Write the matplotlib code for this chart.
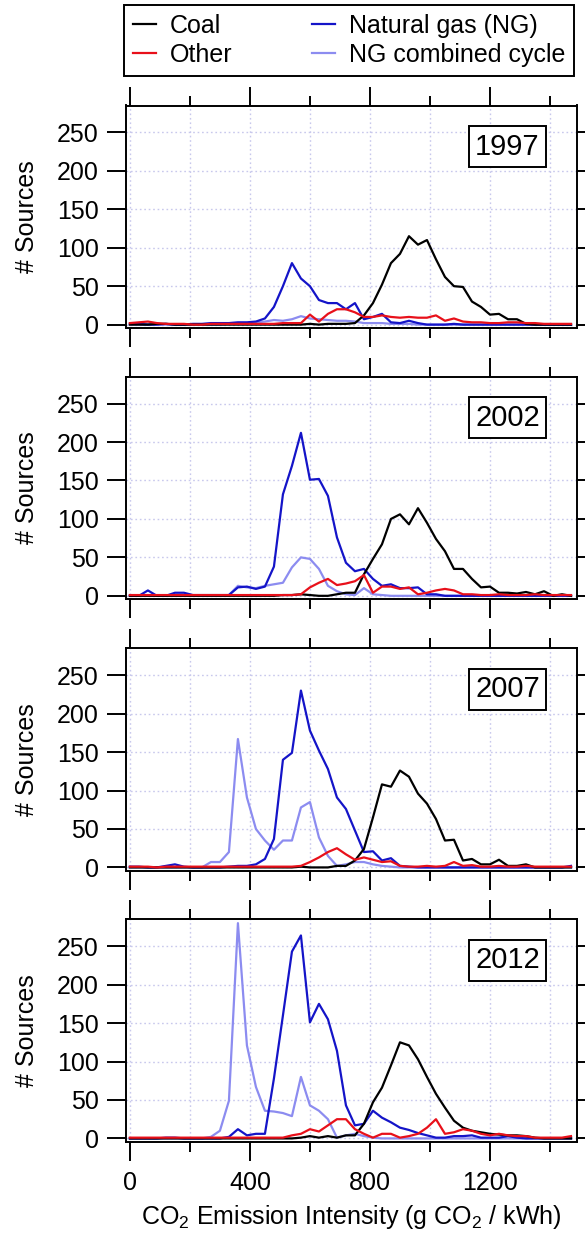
import matplotlib
matplotlib.use("Agg")
import matplotlib.pyplot as plt
from matplotlib.ticker import FixedLocator

plt.rcParams['font.family'] = ['Liberation Sans', 'DejaVu Sans']
plt.rcParams['mathtext.default'] = 'regular'

# bin centres of CO2 emission intensity (g CO2 / kWh)
bins = list(range(0, 1500, 30))

years = ['1997', '2002', '2007', '2012']

coal_1997 = [0,0,0,1,1,0,0,0,0,0, 0,0,0,0,0,0,0,0,0,0, 1,0,1,1,1,
             2,12,28,52,80, 92,115,104,110,85, 62,50,49,30,23, 13,14,7,7,1, 0,0,0,0,0]
ng_1997 = [1,1,0,0,1,0,0,1,1,2, 2,2,3,3,4,8,23,50,80,60, 50,32,28,28,20,
           28,7,10,14,3, 2,5,2,0,0, 0,1,0,0,0, 0,0,0,0,0, 0,0,0,0,0]
other_1997 = [2,3,4,2,1,1,1,0,0,1, 1,1,1,1,1,1,1,2,2,2, 13,4,14,20,20,
              16,10,10,12,10, 9,10,9,9,12, 5,8,4,3,3, 2,2,3,3,2, 2,1,1,1,1]
ngcc_1997 = [0,0,0,0,0,0,0,0,0,0, 0,1,1,2,3,4,6,5,7,11, 8,7,6,5,5,
             4,2,2,2,1, 1,1,0,0,0, 0,0,0,0,0, 0,0,0,0,0, 0,0,0,0,0]

coal_2002 = [0,0,0,0,0,0,0,0,0,0, 0,0,0,0,0,0,0,1,1,2, 1,0,0,2,4,
             4,28,48,67,100, 106,93,114,95,74, 58,35,35,22,11, 12,4,4,3,5, 2,6,0,2,0]
ng_2002 = [0,0,7,0,0,4,4,1,1,1, 1,1,11,12,9,12,38,132,169,212, 151,152,130,76,43,
           32,35,22,13,15, 10,10,11,2,2, 0,0,0,0,0, 0,0,0,0,0, 0,0,0,0,0]
other_2002 = [1,1,1,1,1,1,1,1,1,1, 1,1,1,1,1,1,1,1,1,2, 11,17,22,14,16,
              19,27,4,12,12, 9,11,2,4,7, 9,7,2,2,1, 1,2,1,1,1, 2,1,1,1,1]
ngcc_2002 = [0,0,0,0,0,0,0,0,0,0, 0,1,13,11,10,13,15,17,37,50, 48,35,13,6,2,
             1,10,2,1,0, 0,0,0,0,0, 0,0,0,0,0, 0,0,0,0,0, 0,0,0,0,0]

coal_2007 = [0,0,0,0,0,0,0,0,0,0, 0,0,0,0,0,0,0,0,0,1, 0,0,0,2,2,
             9,24,65,108,105, 126,118,96,83,63, 35,36,9,11,4, 4,10,2,2,4, 0,0,0,0,0]
ng_2007 = [1,1,0,0,2,4,1,0,0,0, 0,1,2,2,4,11,37,140,149,230, 178,152,128,91,76,
           48,20,21,9,12, 2,1,0,0,0, 0,0,0,0,0, 0,0,0,0,0, 0,0,0,0,2]
other_2007 = [1,1,1,0,1,1,1,1,1,1, 1,1,1,1,1,1,1,1,1,2, 7,13,20,25,17,
              10,13,10,7,8, 2,1,1,2,1, 2,7,2,3,1, 1,2,1,1,2, 1,1,1,1,1]
ngcc_2007 = [0,0,0,0,0,0,0,0,0,7, 7,20,167,91,50,35,23,35,35,78, 85,39,15,2,4,
             7,7,4,2,1, 0,0,0,0,0, 0,0,0,0,0, 0,0,0,0,0, 0,0,0,0,0]

coal_2012 = [0,0,0,0,0,0,0,0,0,0, 0,0,0,0,0,0,0,0,0,1, 3,1,3,1,4,
             4,19,47,66,95, 125,121,103,80,58, 40,23,14,10,8, 6,5,4,4,3, 1,0,0,0,0]
ng_2012 = [0,0,0,0,1,1,0,0,0,0, 0,2,12,4,6,6,78,160,243,264, 151,175,155,114,43,
           17,19,36,27,21, 14,11,7,4,1, 1,3,3,4,1, 1,1,3,1,0, 0,0,0,0,0]
other_2012 = [1,1,1,1,1,1,1,1,1,1, 1,1,1,1,1,1,1,1,4,6, 12,9,17,25,25,
              12,6,1,6,6, 1,3,6,14,25, 6,8,12,10,6, 4,6,4,3,3, 1,1,1,1,3]
ngcc_2012 = [0,0,0,0,0,0,0,0,0,2, 10,49,280,121,67,36,35,33,29,80, 43,36,25,1,4,
             6,3,1,0,0, 0,0,0,0,0, 0,0,0,0,0, 0,0,0,0,0, 0,0,0,0,0]

coal = [coal_1997, coal_2002, coal_2007, coal_2012]
ng = [ng_1997, ng_2002, ng_2007, ng_2012]
other = [other_1997, other_2002, other_2007, other_2012]
ngcc = [ngcc_1997, ngcc_2002, ngcc_2007, ngcc_2012]

labels = ['Coal', 'Other', 'Natural gas (NG)', 'NG combined cycle']
colors = {'coal': '#000000', 'other': '#e8101a', 'ng': '#1414c8', 'ngcc': '#8c8cf0'}

W, H = 585, 1238
fig = plt.figure(figsize=(W / 100, H / 100), dpi=100)

left_px, right_px = 126, 577
tops = [105.5, 376.7, 648.3, 919.3]
height_px = 222.2

axes = []
for k, yr in enumerate(years):
    top = tops[k]
    ax = fig.add_axes([left_px / W, 1 - (top + height_px) / H,
                       (right_px - left_px) / W, height_px / H])
    axes.append(ax)
    ax.set_axisbelow(True)
    l_ngcc, = ax.plot(bins, ngcc[k], color=colors['ngcc'], lw=1.6, label=labels[3])
    l_ng, = ax.plot(bins, ng[k], color=colors['ng'], lw=1.6, label=labels[2])
    l_coal, = ax.plot(bins, coal[k], color=colors['coal'], lw=1.6, label=labels[0])
    l_oth, = ax.plot(bins, other[k], color=colors['other'], lw=1.6, label=labels[1])
    if k == 0:
        handles = [l_coal, l_oth, l_ng, l_ngcc]
    ax.set_xlim(-13, 1490)
    ax.set_ylim(-4, 285)
    ax.xaxis.set_major_locator(FixedLocator([0, 400, 800, 1200]))
    ax.xaxis.set_minor_locator(FixedLocator([200, 600, 1000, 1400]))
    ax.yaxis.set_major_locator(FixedLocator([0, 50, 100, 150, 200, 250]))
    ax.grid(which='both', axis='x', color='#c8c8ec', ls=(0, (1.2, 2.0)), lw=1.0)
    ax.grid(which='major', axis='y', color='#c8c8ec', ls=(0, (1.2, 2.0)), lw=1.0)
    for s in ax.spines.values():
        s.set_linewidth(1.4)
    ax.tick_params(which='major', direction='out', length=13.5, width=1.4,
                   top=True, right=True, bottom=True, left=True,
                   labelsize=18, labeltop=False, labelright=False)
    ax.tick_params(which='minor', direction='out', length=7, width=1.4,
                   top=True, bottom=True)
    ax.tick_params(axis='y', which='major', pad=6)
    ax.tick_params(axis='x', which='major', pad=8)
    if k < 3:
        ax.tick_params(labelbottom=False)
    ax.set_ylabel('# Sources', fontsize=18, va='center')
    ax.yaxis.set_label_coords(-0.220, 0.5)
    ax.text(0.846, 0.8146, yr, transform=ax.transAxes, ha='center', va='center',
            fontsize=21,
            bbox=dict(boxstyle='square,pad=0.22', fc='white', ec='black', lw=1.4))

axes[-1].set_xlabel(r'CO$_2$ Emission Intensity (g CO$_2$ / kWh)', fontsize=18)
axes[-1].xaxis.set_label_coords(0.5, -0.277)

leg = fig.legend(handles, [h.get_label() for h in handles], ncol=2,
                 loc='upper left', bbox_to_anchor=(124 / W, 1 - 5 / H),
                 borderaxespad=0, fontsize=18, frameon=True, fancybox=False,
                 handlelength=0.92, handletextpad=0.55, columnspacing=3.2,
                 labelspacing=0.2, borderpad=0.35)
leg.get_frame().set_edgecolor('black')
leg.get_frame().set_linewidth(1.4)
leg.get_frame().set_alpha(1)

fig.savefig('out.png', dpi=100)
